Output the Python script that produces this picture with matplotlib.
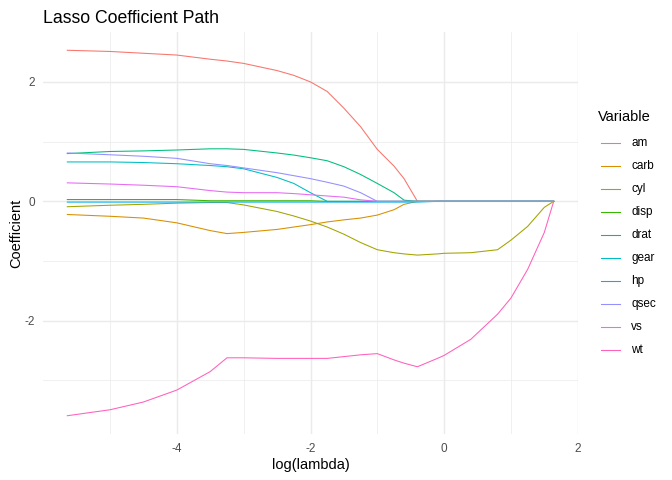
import numpy as np
import matplotlib
matplotlib.use("Agg")
import matplotlib.pyplot as plt
from matplotlib.lines import Line2D

plt.rcParams['font.family'] = ['Liberation Sans', 'DejaVu Sans']
plt.rcParams['axes.unicode_minus'] = False

# common log(lambda) grid
log_lambda = [-5.64, -5.0, -4.5, -4.0, -3.5, -3.25, -3.0, -2.5, -2.25, -2.0, -1.75, -1.5, -1.25,
              -1.0, -0.75, -0.6, -0.4, -0.1, 0.0, 0.4, 0.8, 1.0, 1.25, 1.5, 1.64]

variables = ["am", "carb", "cyl", "disp", "drat", "gear", "hp", "qsec", "vs", "wt"]

am = [2.53, 2.51, 2.48, 2.45, 2.38, 2.35, 2.31, 2.19, 2.11, 2.0, 1.84, 1.56, 1.25,
      0.87, 0.59, 0.38, 0.0, 0, 0, 0, 0, 0, 0, 0, 0]
carb = [-0.22, -0.25, -0.28, -0.36, -0.49, -0.54, -0.52, -0.47, -0.43, -0.39, -0.345, -0.31, -0.28,
        -0.23, -0.14, -0.05, 0.0, 0, 0, 0, 0, 0, 0, 0, 0]
cyl = [-0.09, -0.065, -0.05, -0.03, -0.02, -0.02, -0.06, -0.17, -0.245, -0.33, -0.43, -0.55, -0.69,
       -0.81, -0.86, -0.88, -0.9, -0.88, -0.87, -0.86, -0.81, -0.65, -0.42, -0.1, 0.0]
disp = [0.03, 0.03, 0.03, 0.03, 0.01, 0.01, 0.01, 0.01, 0.01, 0.01, 0.0, 0, 0,
        0, 0, 0, 0, 0, 0, 0, 0, 0, 0, 0, 0]
drat = [0.80, 0.835, 0.845, 0.86, 0.88, 0.88, 0.87, 0.81, 0.775, 0.73, 0.68, 0.58, 0.45,
        0.30, 0.145, 0.02, 0.0, 0, 0, 0, 0, 0, 0, 0, 0]
gear = [0.66, 0.66, 0.65, 0.63, 0.60, 0.58, 0.545, 0.40, 0.30, 0.145, 0.0, 0, 0,
        0, 0, 0, 0, 0, 0, 0, 0, 0, 0, 0, 0]
hp = [-0.012, -0.012, -0.012, -0.012, -0.012, -0.012, -0.012, -0.012, -0.012, -0.012, -0.012, -0.012, -0.012,
      -0.012, -0.012, -0.012, -0.012, 0.0, 0, 0, 0, 0, 0, 0, 0]
qsec = [0.81, 0.78, 0.755, 0.72, 0.63, 0.60, 0.56, 0.48, 0.43, 0.38, 0.32, 0.255, 0.145,
        0.0, 0, 0, 0, 0, 0, 0, 0, 0, 0, 0, 0]
vs = [0.31, 0.29, 0.27, 0.245, 0.18, 0.155, 0.145, 0.145, 0.13, 0.11, 0.09, 0.07, 0.025,
      0.0, 0, 0, 0, 0, 0, 0, 0, 0, 0, 0, 0]
wt = [-3.59, -3.49, -3.36, -3.16, -2.85, -2.62, -2.62, -2.63, -2.63, -2.63, -2.63, -2.60, -2.57,
      -2.55, -2.655, -2.71, -2.77, -2.63, -2.58, -2.31, -1.89, -1.62, -1.14, -0.52, 0.0]

coefs = [am, carb, cyl, disp, drat, gear, hp, qsec, vs, wt]

# ggplot2 default hue palette for 10 groups
colors = ["#F8766D", "#D89000", "#A3A500", "#39B600", "#00BF7D",
          "#00BFC4", "#00B0F6", "#9590FF", "#E76BF3", "#FF62BC"]

W, H = 672, 480
fig = plt.figure(figsize=(7, 5), dpi=96)
ax = fig.add_axes([43 / W, 1 - 434 / H, (578 - 43) / W, (434 - 32) / H])

for name, vals, col in zip(variables, coefs, colors):
    ax.plot(log_lambda, vals, color=col, lw=0.8, label=name, solid_joinstyle="round")

# ggplot-like expansion (5%)
xmin, xmax = min(log_lambda), max(log_lambda)
allv = np.concatenate([np.asarray(v, float) for v in coefs])
ymin, ymax = allv.min(), allv.max()
dx = (xmax - xmin) * 0.05
dy = (ymax - ymin) * 0.05
ax.set_xlim(xmin - dx, xmax + dx)
ax.set_ylim(ymin - dy, ymax + dy)

# theme_minimal look
for s in ax.spines.values():
    s.set_visible(False)
ax.set_xticks([-4, -2, 0, 2])
ax.set_yticks([-2, 0, 2])
ax.set_xticks([-5, -3, -1, 1], minor=True)
ax.set_yticks([-3, -1, 1], minor=True)
ax.grid(which="major", color="#EBEBEB", lw=1.07)
ax.grid(which="minor", color="#EBEBEB", lw=0.55)
ax.set_axisbelow(True)
ax.tick_params(which="both", length=0)
ax.tick_params(axis="both", labelsize=8.8, labelcolor="#4D4D4D")
ax.tick_params(axis="x", pad=7)
ax.tick_params(axis="y", pad=6)

ax.set_xlabel("log(lambda)", fontsize=11, labelpad=2)
ax.set_ylabel("Coefficient", fontsize=11, labelpad=1)
fig.text(43 / W, 1 - 23 / H, "Lasso Coefficient Path", fontsize=13.2, ha="left", va="baseline")

# legend drawn by hand to match ggplot placement
fig.text(598 / W, 1 - 117 / H, "Variable", fontsize=11, ha="left", va="center")
for i, (name, col) in enumerate(zip(variables, colors)):
    y = 1 - (142.7 + i * 23.0) / H
    fig.add_artist(Line2D([601 / W, 620 / W], [y, y], color=col, lw=0.8))
    fig.text(631 / W, y, name, fontsize=8.8, ha="left", va="center")

fig.savefig("out.png", dpi=96)
